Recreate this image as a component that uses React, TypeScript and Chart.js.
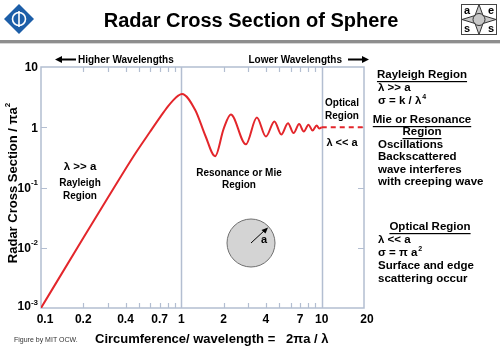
import React, { useEffect, useRef } from 'react';
import { Chart, registerables } from 'chart.js';
Chart.register(...registerables);

// Normalised RCS (sigma / pi a^2) vs circumference / wavelength
const rcsX = [0.1, 0.2, 0.3, 0.46, 0.6, 0.71, 0.8, 0.88, 0.95, 1.01, 1.26, 1.48, 1.74, 2.0, 2.25, 2.88, 3.45, 4.0, 4.6, 5.15, 5.75, 6.3, 6.9, 7.45, 8.05, 8.6, 9.2, 9.6, 10];
const rcsY = [0.001, 0.0145, 0.068, 0.34, 0.85, 1.5, 2.2, 2.85, 3.35, 3.58, 1.9, 0.73, 0.33, 0.94, 1.63, 0.52, 1.45, 0.7, 1.25, 0.76, 1.17, 0.8, 1.13, 0.85, 1.1, 0.88, 1.07, 0.95, 1.0];
const opticalX = [10, 20];
const opticalY = [1, 1];

const xTickValues = [0.1, 0.2, 0.4, 0.7, 1, 2, 4, 7, 10, 20];
const xTickLabels = ['0.1', '0.2', '0.4', '0.7', '1', '2', '4', '7', '10', '20'];
const xMinorTicks = [0.2, 0.3, 0.4, 0.5, 0.6, 0.7, 0.8, 0.9, 2, 3, 4, 5, 6, 7, 8, 9];
const xMajorLines = [1, 10];
const yTickValues = [10, 1, 0.1, 0.01, 0.001];
const yTickBase = ['10', '1', '10', '10', '10'];
const yTickExp = ['', '', '-1', '-2', '-3'];
const yInnerTicks = [1, 0.1, 0.01];

const FONT = '"Liberation Sans", Arial, Helvetica, sans-serif';
const AXIS_COLOR = '#b3bed1';
const RED = '#e3262b';

const decorPlugin = {
  id: 'decor',
  beforeDatasetsDraw(chart: any) {
    const { ctx, chartArea: a } = chart;
    const xs = chart.scales.x;
    const ys = chart.scales.y;
    ctx.save();
    ctx.strokeStyle = AXIS_COLOR;
    ctx.lineWidth = 1.5;
    ctx.strokeRect(a.left, a.top, a.right - a.left, a.bottom - a.top);
    xMajorLines.forEach((v) => {
      const px = Math.round(xs.getPixelForValue(v)) + 0.5;
      ctx.beginPath();
      ctx.moveTo(px, a.top);
      ctx.lineTo(px, a.bottom);
      ctx.stroke();
    });
    ctx.lineWidth = 1.2;
    xMinorTicks.forEach((v) => {
      const px = Math.round(xs.getPixelForValue(v)) + 0.5;
      ctx.beginPath();
      ctx.moveTo(px, a.top);
      ctx.lineTo(px, a.top + 5);
      ctx.moveTo(px, a.bottom);
      ctx.lineTo(px, a.bottom - 5);
      ctx.stroke();
    });
    yInnerTicks.forEach((v) => {
      const py = Math.round(ys.getPixelForValue(v)) + 0.5;
      ctx.beginPath();
      ctx.moveTo(a.left, py);
      ctx.lineTo(a.left + 6, py);
      ctx.moveTo(a.right, py);
      ctx.lineTo(a.right - 6, py);
      ctx.stroke();
    });
    ctx.restore();
  },
  afterDraw(chart: any) {
    const { ctx } = chart;
    const xs = chart.scales.x;
    const ys = chart.scales.y;
    ctx.save();
    ctx.fillStyle = '#000';

    // Title
    ctx.font = `bold 20px ${FONT}`;
    ctx.textAlign = 'center';
    ctx.textBaseline = 'middle';
    ctx.fillText('Radar Cross Section of Sphere', 251, 21);

    // header rule
    ctx.strokeStyle = '#8e8e8e';
    ctx.lineWidth = 3;
    ctx.beginPath();
    ctx.moveTo(0, 41.5);
    ctx.lineTo(500, 41.5);
    ctx.stroke();
    ctx.strokeStyle = '#d6d6d6';
    ctx.lineWidth = 1;
    ctx.beginPath();
    ctx.moveTo(0, 43.5);
    ctx.lineTo(500, 43.5);
    ctx.stroke();

    // left logo
    ctx.fillStyle = '#1c5ea8';
    ctx.beginPath();
    ctx.moveTo(19, 4);
    ctx.lineTo(34, 19);
    ctx.lineTo(19, 34);
    ctx.lineTo(4, 19);
    ctx.closePath();
    ctx.fill();
    ctx.strokeStyle = '#fff';
    ctx.lineWidth = 1.6;
    ctx.beginPath();
    ctx.arc(19, 19, 6.5, 0, Math.PI * 2);
    ctx.stroke();
    ctx.beginPath();
    ctx.moveTo(19, 11);
    ctx.lineTo(19, 27);
    ctx.stroke();

    // right logo
    ctx.strokeStyle = '#444';
    ctx.lineWidth = 1;
    ctx.strokeRect(461.5, 4.5, 35, 30);
    ctx.fillStyle = '#c8c8c8';
    ctx.beginPath();
    const cx = 479, cy = 19.5;
    const pts = [[0, -15], [4, -4], [17, 0], [4, 4], [0, 15], [-4, 4], [-17, 0], [-4, -4]];
    pts.forEach(([dx, dy], i) => (i ? ctx.lineTo(cx + dx, cy + dy) : ctx.moveTo(cx + dx, cy + dy)));
    ctx.closePath();
    ctx.fill();
    ctx.strokeStyle = '#333';
    ctx.stroke();
    ctx.beginPath();
    ctx.arc(cx, cy, 6, 0, Math.PI * 2);
    ctx.stroke();
    ctx.fillStyle = '#000';
    ctx.font = `bold 11px ${FONT}`;
    ctx.fillText('a', 467, 11);
    ctx.fillText('e', 491, 11);
    ctx.fillText('s', 467, 29);
    ctx.fillText('s', 491, 29);

    // wavelength arrows
    ctx.font = `bold 10px ${FONT}`;
    ctx.textAlign = 'left';
    ctx.fillText('Higher Wavelengths', 78, 60);
    ctx.textAlign = 'right';
    ctx.fillText('Lower Wavelengths', 342, 60);
    ctx.strokeStyle = '#000';
    ctx.lineWidth = 2;
    ctx.beginPath();
    ctx.moveTo(60, 59.5);
    ctx.lineTo(76, 59.5);
    ctx.moveTo(348, 59.5);
    ctx.lineTo(364, 59.5);
    ctx.stroke();
    ctx.beginPath();
    ctx.moveTo(55, 59.5);
    ctx.lineTo(62, 56);
    ctx.lineTo(62, 63);
    ctx.closePath();
    ctx.moveTo(369, 59.5);
    ctx.lineTo(362, 56);
    ctx.lineTo(362, 63);
    ctx.closePath();
    ctx.fill();

    // y tick labels with exponents
    ctx.textBaseline = 'middle';
    yTickValues.forEach((v, i) => {
      const py = ys.getPixelForValue(v);
      const right = 38;
      ctx.font = `bold 8px ${FONT}`;
      const ew = yTickExp[i] ? ctx.measureText(yTickExp[i]).width : 0;
      if (yTickExp[i]) {
        ctx.textAlign = 'right';
        ctx.fillText(yTickExp[i], right, py - 5);
      }
      ctx.font = `bold 12px ${FONT}`;
      ctx.textAlign = 'right';
      ctx.fillText(yTickBase[i], right - ew, py + (v === 0.001 ? -1 : 1));
    });

    // x tick labels
    ctx.font = `bold 12px ${FONT}`;
    ctx.textAlign = 'center';
    xTickValues.forEach((v, i) => {
      let px = xs.getPixelForValue(v);
      if (i === 0) px += 4;
      if (i === xTickValues.length - 1) px += 3;
      ctx.fillText(xTickLabels[i], px, 320);
    });

    // y axis title
    ctx.save();
    ctx.translate(13, 183);
    ctx.rotate(-Math.PI / 2);
    ctx.font = `bold 13px ${FONT}`;
    const t1 = 'Radar Cross Section / \u03c0a';
    const w1 = ctx.measureText(t1).width;
    ctx.font = `bold 8px ${FONT}`;
    const w2 = ctx.measureText('2').width;
    const start = -(w1 + w2) / 2;
    ctx.textAlign = 'left';
    ctx.font = `bold 13px ${FONT}`;
    ctx.fillText(t1, start, 0);
    ctx.font = `bold 8px ${FONT}`;
    ctx.fillText('2', start + w1, -5);
    ctx.restore();

    // x axis title
    ctx.textAlign = 'left';
    ctx.font = `bold 13px ${FONT}`;
    ctx.fillText('Circumference/ wavelength =   2\u03c0a / \u03bb', 95, 339);
    ctx.font = `7px ${FONT}`;
    ctx.fillStyle = '#333';
    ctx.fillText('Figure by MIT OCW.', 14, 340);
    ctx.fillStyle = '#000';

    // in-plot annotations
    ctx.textAlign = 'center';
    ctx.font = `bold 11.5px ${FONT}`;
    ctx.fillText('\u03bb >> a', 80, 167);
    ctx.font = `bold 10px ${FONT}`;
    ctx.fillText('Rayleigh', 80, 183);
    ctx.fillText('Region', 80, 196);
    ctx.fillText('Resonance or Mie', 239, 173);
    ctx.fillText('Region', 239, 185);
    ctx.fillText('Optical', 342, 103);
    ctx.fillText('Region', 342, 116);
    ctx.font = `bold 11px ${FONT}`;
    ctx.fillText('\u03bb << a', 342, 143);

    // sphere sketch
    ctx.fillStyle = '#d4d4d4';
    ctx.strokeStyle = '#6f6f6f';
    ctx.lineWidth = 1;
    ctx.beginPath();
    ctx.arc(251, 243, 24, 0, Math.PI * 2);
    ctx.fill();
    ctx.stroke();
    ctx.strokeStyle = '#000';
    ctx.beginPath();
    ctx.moveTo(251, 243);
    ctx.lineTo(265, 230);
    ctx.stroke();
    ctx.fillStyle = '#000';
    ctx.beginPath();
    ctx.moveTo(268, 227.5);
    ctx.lineTo(261.5, 230);
    ctx.lineTo(265.5, 233.5);
    ctx.closePath();
    ctx.fill();
    ctx.font = `bold 11px ${FONT}`;
    ctx.fillText('a', 264, 240);

    // right panel
    const L = 378;
    const underlined = (txt: string, x: number, y: number) => {
      ctx.textAlign = 'center';
      ctx.fillText(txt, x, y);
      const w = ctx.measureText(txt).width;
      ctx.fillRect(x - w / 2, y + 6, w, 1.2);
    };
    const line = (txt: string, y: number) => {
      ctx.textAlign = 'left';
      ctx.fillText(txt, L, y);
    };
    ctx.font = `bold 11.5px ${FONT}`;
    underlined('Rayleigh Region', 422, 75);
    line('\u03bb >> a', 88);
    line('\u03c3 = k / \u03bb', 101);
    let w = ctx.measureText('\u03c3 = k / \u03bb').width;
    ctx.font = `bold 7px ${FONT}`;
    ctx.fillText('4', L + w + 1, 97);
    ctx.font = `bold 11.5px ${FONT}`;
    underlined('Mie or Resonance', 422, 120);
    underlined('Region', 422, 132);
    line('Oscillations', 145);
    line('Backscattered', 157);
    line('wave interferes', 170);
    line('with creeping wave', 182);
    underlined('Optical Region', 430, 227);
    line('\u03bb << a', 240);
    line('\u03c3 = \u03c0 a', 253);
    w = ctx.measureText('\u03c3 = \u03c0 a').width;
    ctx.font = `bold 7px ${FONT}`;
    ctx.fillText('2', L + w + 1, 249);
    ctx.font = `bold 11.5px ${FONT}`;
    line('Surface and edge', 266);
    line('scattering occur', 279);

    ctx.restore();
  },
};

export default function App() {
  const ref = useRef<HTMLCanvasElement>(null);
  useEffect(() => {
    if (!ref.current) return;
    const chart = new Chart(ref.current, {
      type: 'line',
      data: {
        datasets: [
          {
            label: 'RCS',
            data: rcsX.map((x, i) => ({ x, y: rcsY[i] })),
            borderColor: RED,
            borderWidth: 2,
            pointRadius: 0,
            cubicInterpolationMode: 'monotone',
            fill: false,
          },
          {
            label: 'Optical',
            data: opticalX.map((x, i) => ({ x, y: opticalY[i] })),
            borderColor: RED,
            borderWidth: 2,
            borderDash: [5, 4],
            pointRadius: 0,
            fill: false,
          },
        ],
      },
      options: {
        animation: false,
        responsive: false,
        maintainAspectRatio: false,
        events: [],
        layout: { padding: { left: 41, top: 67, right: 136, bottom: 41 } },
        plugins: { legend: { display: false }, tooltip: { enabled: false } },
        scales: {
          x: { type: 'logarithmic', min: 0.1, max: 20, display: false },
          y: { type: 'logarithmic', min: 0.001, max: 10, display: false },
        },
      },
      plugins: [decorPlugin],
    } as any);
    return () => chart.destroy();
  }, []);
  return (
    <div style={{ position: 'fixed', left: 0, top: 0, width: 500, height: 349, background: '#fff' }}>
      <canvas ref={ref} width={500} height={349} style={{ display: 'block' }} />
    </div>
  );
}
